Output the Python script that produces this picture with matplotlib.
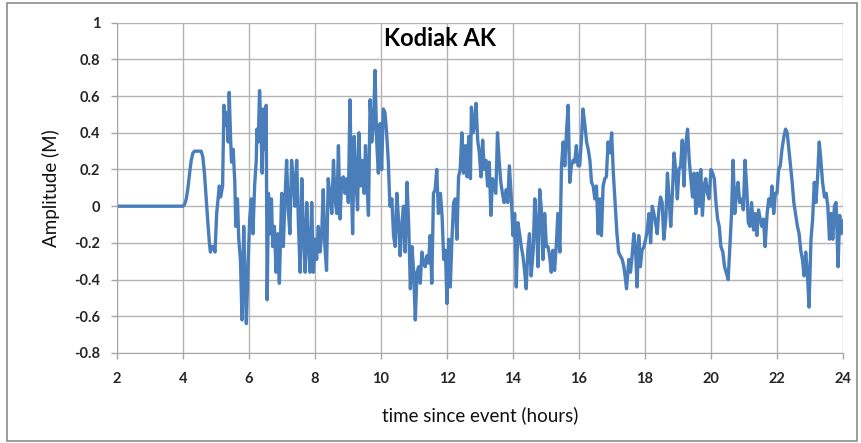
import matplotlib
matplotlib.use("Agg")
import matplotlib.pyplot as plt
from matplotlib.patches import Rectangle

# Kodiak AK tide gauge record
hours_a = [2.0, 4.0, 4.05, 4.1, 4.15, 4.2, 4.25, 4.3, 4.35, 4.45, 4.55, 4.6, 4.65, 4.7,
           4.75, 4.8, 4.83, 4.88, 4.92, 4.97]
amp_a = [0.0, 0.0, 0.01, 0.04, 0.1, 0.18, 0.25, 0.29, 0.3, 0.3, 0.3, 0.27, 0.18, 0.05,
         -0.08, -0.2, -0.25, -0.22, -0.22, -0.25]

hours_b = [5.02, 5.1, 5.14, 5.2, 5.24, 5.29, 5.32, 5.37, 5.4, 5.44, 5.47, 5.52, 5.57, 5.6,
           5.65, 5.69, 5.74, 5.79, 5.84, 5.87, 5.92, 5.97, 6.02, 6.07, 6.12, 6.17, 6.22,
           6.24, 6.28, 6.32, 6.36, 6.4, 6.44, 6.48, 6.52, 6.55, 6.59, 6.64, 6.68, 6.72,
           6.77, 6.82, 6.87, 6.92]
amp_b = [-0.04, 0.11, 0.05, 0.11, 0.55, 0.44, 0.51, 0.35, 0.62, 0.38, 0.24, 0.31, 0.13, -0.11,
         0.04, -0.18, -0.29, -0.62, -0.11, -0.33, -0.64, -0.33, -0.07, 0.04, -0.15, 0.11, 0.25,
         0.42, 0.35, 0.63, 0.44, 0.18, 0.53, 0.31, 0.55, -0.51, 0.07, -0.15, 0.04, -0.22,
         -0.11, -0.36, -0.15, -0.42]

hours_c = [6.99, 7.04, 7.09, 7.14, 7.19, 7.24, 7.29, 7.34, 7.39, 7.445, 7.5, 7.55, 7.6, 7.65,
           7.7, 7.75, 7.8, 7.85, 7.9, 7.95, 8.0, 8.05, 8.1, 8.15, 8.2, 8.25, 8.3, 8.35, 8.4,
           8.45, 8.51, 8.56, 8.61, 8.66, 8.71, 8.76, 8.81, 8.86, 8.91, 8.96, 9.01, 9.06, 9.11,
           9.14, 9.19, 9.24, 9.29, 9.33, 9.38, 9.43, 9.49, 9.53, 9.57, 9.62, 9.67, 9.72, 9.77,
           9.82, 9.87, 9.92, 9.97, 10.02, 10.07, 10.12, 10.17, 10.22, 10.27]
amp_c = [0.07, -0.22, 0.04, 0.25, -0.02, -0.15, 0.25, 0.15, 0.0, 0.25, -0.11, -0.36, 0.15,
         -0.16, -0.36, 0.02, -0.22, -0.36, 0.02, -0.36, -0.18, -0.29, -0.11, -0.25, -0.16,
         0.09, -0.22, -0.35, 0.15, 0.07, -0.04, 0.25, 0.04, -0.04, 0.33, -0.07, 0.15, 0.16,
         0.07, 0.15, 0.02, 0.58, 0.07, -0.15, 0.38, 0.15, -0.02, 0.4, 0.11, 0.25, 0.07, 0.33,
         0.15, -0.05, 0.58, 0.35, 0.44, 0.74, 0.35, 0.18, 0.45, 0.2, 0.53, 0.51, 0.4, 0.25, 0.0]

hours_d = [10.33, 10.38, 10.43, 10.48, 10.53, 10.58, 10.63, 10.68, 10.73, 10.79, 10.84,
           10.89, 10.94, 10.99, 11.04, 11.09, 11.14, 11.19, 11.24, 11.29, 11.34, 11.39,
           11.44, 11.49, 11.54, 11.59, 11.64, 11.69, 11.74, 11.8, 11.85, 11.9, 11.95, 12.0,
           12.05, 12.1, 12.15, 12.2, 12.25, 12.3, 12.35, 12.4, 12.45, 12.5, 12.56, 12.61,
           12.66, 12.71, 12.74, 12.79, 12.83, 12.88, 12.93, 12.98, 13.03, 13.08, 13.13,
           13.18, 13.23, 13.28, 13.33, 13.38, 13.43, 13.48, 13.53, 13.58, 13.63, 13.68, 13.73]
amp_d = [0.04, -0.16, -0.22, 0.07, -0.07, -0.27, -0.11, 0.0, -0.25, 0.13, -0.11, -0.45,
         -0.22, -0.36, -0.62, -0.36, -0.33, -0.42, -0.25, -0.31, -0.33, -0.27, -0.31, -0.16,
         -0.42, 0.07, 0.09, 0.2, -0.04, 0.07, -0.05, -0.29, -0.24, -0.53, -0.18, -0.44, -0.18,
         0.02, 0.04, -0.18, 0.16, 0.2, 0.4, 0.18, 0.33, 0.16, 0.38, 0.15, 0.54, 0.4, 0.44,
         0.56, 0.36, 0.29, 0.16, 0.36, 0.2, 0.25, 0.11, 0.24, -0.05, 0.15, 0.11, 0.07, 0.4,
         0.25, 0.13, 0.07, 0.02]

hours_e = [13.79, 13.84, 13.89, 13.95, 14.0, 14.05, 14.1, 14.15, 14.2, 14.25, 14.3, 14.35,
           14.4, 14.45, 14.5, 14.55, 14.61, 14.66, 14.71, 14.76, 14.81, 14.86, 14.91, 14.96,
           15.01, 15.06, 15.11, 15.16, 15.21, 15.26, 15.31, 15.36, 15.42, 15.47, 15.52,
           15.57, 15.62, 15.67, 15.72, 15.77, 15.82, 15.87, 15.92, 15.97, 16.02, 16.07,
           16.12, 16.18, 16.23, 16.28, 16.33, 16.38, 16.43, 16.48, 16.53, 16.58, 16.63,
           16.68, 16.73, 16.78, 16.83, 16.88, 16.93, 16.99, 17.04]
amp_e = [0.09, 0.02, 0.22, 0.04, -0.16, -0.04, -0.44, -0.09, -0.15, -0.22, -0.27, -0.35,
         -0.45, -0.24, -0.15, -0.38, -0.25, 0.04, -0.11, -0.33, 0.09, -0.02, -0.29, -0.04,
         -0.22, -0.22, -0.27, -0.36, -0.24, -0.35, -0.22, -0.04, -0.25, 0.22, 0.35, 0.22,
         0.4, 0.55, 0.13, 0.22, 0.25, 0.24, 0.33, 0.22, 0.22, 0.35, 0.53, 0.44, 0.35, 0.31,
         0.25, 0.13, 0.11, 0.04, 0.11, -0.15, 0.04, -0.16, 0.11, 0.15, 0.16, 0.35, 0.29,
         0.4, 0.18]

hours_f = [17.1, 17.15, 17.2, 17.25, 17.31, 17.36, 17.41, 17.44, 17.48, 17.51, 17.56, 17.61,
           17.66, 17.71, 17.76, 17.81, 17.86, 17.91, 17.97, 18.02, 18.07, 18.12, 18.17,
           18.22, 18.27, 18.32, 18.37, 18.42, 18.47, 18.52, 18.57, 18.63, 18.68, 18.73,
           18.78, 18.83, 18.88, 18.93, 18.98, 19.03, 19.08, 19.13, 19.18, 19.23, 19.29,
           19.34, 19.39, 19.44, 19.49, 19.54, 19.59, 19.64, 19.69, 19.74, 19.79, 19.84,
           19.89, 19.94, 20.0, 20.05, 20.1, 20.15, 20.2, 20.25, 20.3]
amp_f = [0.0, -0.15, -0.25, -0.27, -0.29, -0.33, -0.4, -0.45, -0.36, -0.29, -0.36, -0.27,
         -0.15, -0.22, -0.44, -0.16, -0.33, -0.24, -0.22, -0.18, -0.13, -0.04, -0.2, 0.0,
         -0.04, -0.09, -0.15, -0.02, 0.05, 0.02, -0.18, -0.07, 0.18, 0.04, -0.11, 0.07, 0.29,
         0.2, 0.04, 0.2, 0.22, 0.36, 0.11, 0.33, 0.42, 0.25, 0.15, 0.05, 0.18, -0.04, 0.18,
         0.0, 0.2, -0.05, 0.11, 0.15, 0.07, 0.04, 0.2, 0.18, 0.15, 0.02, -0.07, -0.11, -0.22]

hours_g = [20.36, 20.41, 20.46, 20.52, 20.57, 20.62, 20.67, 20.72, 20.77, 20.82, 20.87,
           20.93, 20.98, 21.03, 21.08, 21.13, 21.18, 21.23, 21.29, 21.34, 21.39, 21.44,
           21.49, 21.54, 21.59, 21.64, 21.7, 21.75, 21.8, 21.85, 21.9, 21.95, 22.0, 22.05,
           22.1, 22.15, 22.21, 22.26, 22.31, 22.36, 22.41, 22.46, 22.51, 22.56, 22.62, 22.67,
           22.72, 22.77, 22.82, 22.87, 22.92, 22.97, 23.03, 23.08, 23.13, 23.18, 23.23,
           23.28, 23.33, 23.38, 23.44, 23.49, 23.54, 23.59, 23.64, 23.69, 23.74, 23.79,
           23.85, 23.9, 23.95, 24.0]
amp_g = [-0.25, -0.33, -0.36, -0.4, -0.22, -0.05, 0.25, -0.04, 0.07, 0.13, 0.02, 0.04, -0.02,
         0.25, 0.11, -0.09, -0.11, 0.02, -0.13, -0.04, -0.16, -0.02, -0.07, -0.11, -0.07,
         -0.22, -0.04, 0.04, 0.0, 0.11, -0.04, 0.07, 0.07, 0.2, 0.22, 0.31, 0.38, 0.42, 0.4,
         0.31, 0.22, 0.13, 0.02, -0.04, -0.11, -0.15, -0.24, -0.29, -0.38, -0.25, -0.36,
         -0.55, -0.18, -0.07, 0.13, 0.02, 0.16, 0.35, 0.25, 0.13, 0.05, 0.07, 0.0, -0.18,
         -0.04, -0.18, 0.0, 0.02, -0.33, -0.05, -0.15, -0.08]

hours = hours_a + hours_b + hours_c + hours_d + hours_e + hours_f + hours_g
amplitude = amp_a + amp_b + amp_c + amp_d + amp_e + amp_f + amp_g

x_ticks = list(range(2, 25, 2))
y_ticks = [-0.8, -0.6, -0.4, -0.2, 0, 0.2, 0.4, 0.6, 0.8, 1]
y_tick_labels = ["-0.8", "-0.6", "-0.4", "-0.2", "0", "0.2", "0.4", "0.6", "0.8", "1"]

plt.rcParams['font.family'] = ['Lato', 'DejaVu Sans']

W, H = 861, 443
fig = plt.figure(figsize=(W / 100, H / 100), dpi=100)
ax = fig.add_axes([117 / W, 1 - 353 / H, (843 - 117) / W, (353 - 22.7) / H])

ax.plot(hours, amplitude, color='#4a7ebb', lw=2.4, solid_joinstyle='round')

ax.set_xlim(2, 24)
ax.set_ylim(-0.8, 1)
ax.set_xticks(x_ticks)
ax.set_yticks(y_ticks)
ax.set_yticklabels(y_tick_labels)
ax.grid(True, color='#b3b3b3', lw=1.0)
ax.set_axisbelow(True)
for side in ['top', 'right']:
    ax.spines[side].set_visible(False)
for side in ['left', 'bottom']:
    ax.spines[side].set_color('#a6a6a6')
ax.tick_params(axis='both', colors='#a6a6a6', length=4, width=1,
               labelcolor='#262626', labelsize=10.5)
for lab in ax.get_xticklabels() + ax.get_yticklabels():
    lab.set_fontweight('bold')
ax.tick_params(axis='x', pad=10)
ax.tick_params(axis='y', pad=8)

ax.set_xlabel('time since event (hours)', fontsize=13.5, color='#111111', labelpad=14)
ax.set_ylabel('Amplitude (M)', fontsize=13.5, color='#111111', labelpad=10)
fig.text(440 / W, 1 - 38 / H, 'Kodiak AK', fontsize=17, fontweight='bold',
         ha='center', va='center', color='black')

# outer chart border
fig.patches.append(Rectangle((7 / W, 2 / H), (857 - 7) / W, (440 - 2) / H,
                             transform=fig.transFigure, fill=False,
                             edgecolor='#8c8c8c', lw=1.2))

fig.savefig('out.png', dpi=100)
